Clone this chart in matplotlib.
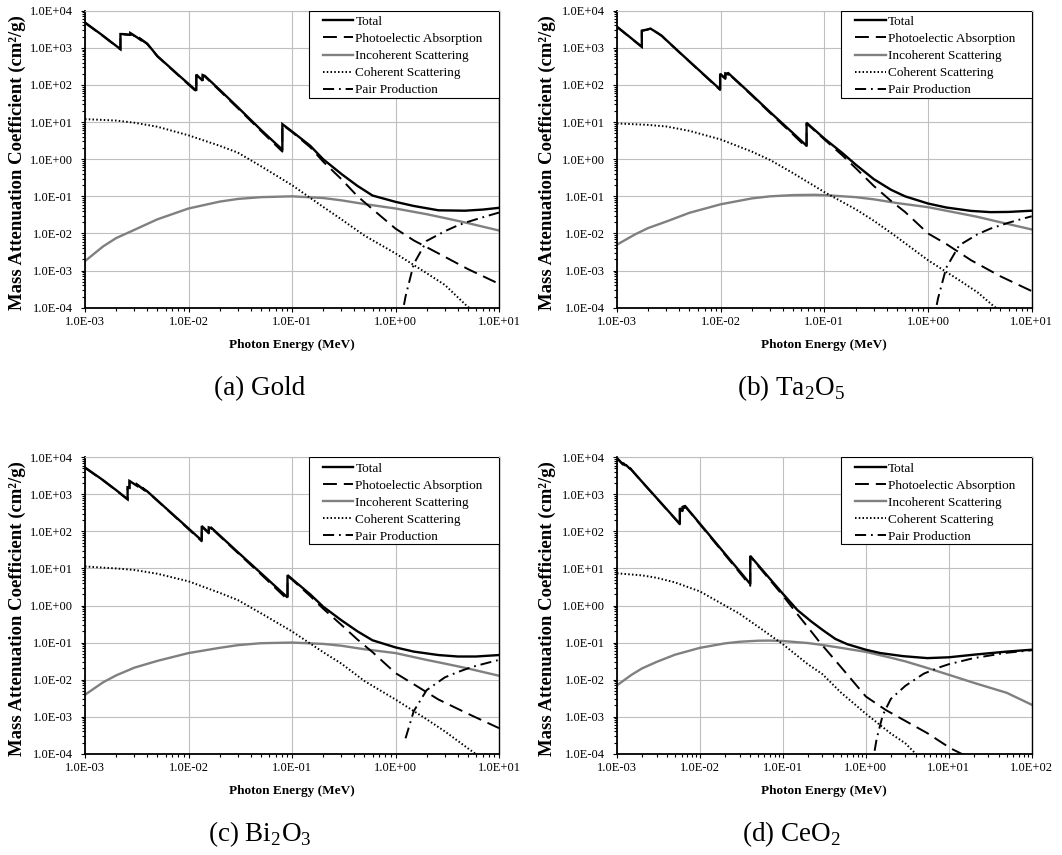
import matplotlib
matplotlib.use("Agg")
import matplotlib.pyplot as plt
from matplotlib.patches import Rectangle
from matplotlib.ticker import FuncFormatter, LogLocator, NullFormatter

plt.rcParams["font.family"] = ["Liberation Serif", "DejaVu Serif"]
plt.rcParams["mathtext.fontset"] = "custom"
plt.rcParams["mathtext.rm"] = "Liberation Serif"
plt.rcParams["lines.scale_dashes"] = False

# ---- (a) Gold ----  energies in MeV, coefficients in cm2/g
au_tot_e = [1e-3, 1.5e-3, 2.2e-3, 2.2e-3, 2.29e-3, 2.74e-3, 2.74e-3, 3.15e-3, 3.43e-3, 3.43e-3, 4e-3, 5e-3, 8e-3,
            1.19e-2, 1.19e-2, 1.37e-2, 1.37e-2, 1.44e-2, 2e-2, 3e-2, 5e-2, 8.07e-2, 8.07e-2, 0.1, 0.15, 0.2, 0.3,
            0.43, 0.6, 1.0, 1.5, 2.6, 4.7, 7.0, 10.0]
au_tot = [4800, 2100, 920, 2350, 2350, 2250, 2500, 1950, 1650, 1750, 1290, 600, 185,
          70, 190, 130, 185, 175, 74, 25, 6.2, 1.8, 8.8, 5.6, 2.3, 1.0, 0.40,
          0.19, 0.105, 0.071, 0.055, 0.042, 0.041, 0.044, 0.049]
au_pe_e = [1e-3, 1.5e-3, 2.2e-3, 2.2e-3, 2.29e-3, 2.74e-3, 2.74e-3, 3.15e-3, 3.43e-3, 3.43e-3, 4e-3, 5e-3, 8e-3,
           1.19e-2, 1.19e-2, 1.37e-2, 1.37e-2, 1.44e-2, 2e-2, 3e-2, 5e-2, 8.07e-2, 8.07e-2, 0.1, 0.15, 0.2, 0.3,
           0.43, 0.6, 1.0, 1.5, 2.6, 5.0, 10.0]
au_pe = [4700, 2050, 900, 2320, 2320, 2220, 2470, 1920, 1620, 1720, 1260, 590, 180,
         66, 184, 125, 178, 168, 70, 23.5, 5.8, 1.6, 8.5, 5.4, 2.1, 0.86, 0.29,
         0.10, 0.045, 0.0135, 0.0065, 0.0029, 0.0011, 0.00044]
au_inc_e = [1e-3, 1.5e-3, 2e-3, 3e-3, 5e-3, 1e-2, 2e-2, 3e-2, 5e-2, 0.1, 0.2, 0.3, 0.5, 1.0, 2.0, 3.0, 5.0, 10.0]
au_inc = [1.8e-3, 4.5e-3, 7.5e-3, 0.0125, 0.024, 0.047, 0.072, 0.085, 0.095, 0.1, 0.09, 0.078, 0.062, 0.047,
          0.033, 0.026, 0.019, 0.012]
au_coh_e = [1e-3, 2e-3, 3e-3, 5e-3, 1e-2, 2e-2, 3e-2, 5e-2, 0.1, 0.2, 0.3, 0.5, 1.0, 2.0, 3.0, 5.0, 7.0, 10.0]
au_coh = [12, 11, 9.6, 7.5, 4.4, 2.3, 1.5, 0.65, 0.2, 0.052, 0.024, 0.0088, 0.0029, 0.00085, 0.00041,
          0.000105, 6.5e-5, 3.2e-5]
au_pp_e = [1.1, 1.25, 1.5, 2.0, 3.0, 4.0, 5.0, 6.0, 8.0, 10.0]
au_pp = [3e-5, 2e-4, 1.5e-3, 6.3e-3, 0.0115, 0.0165, 0.0205, 0.024, 0.0305, 0.0365]

# ---- (b) Ta2O5 ----
ta_tot_e = [1e-3, 1.735e-3, 1.735e-3, 1.95e-3, 2.1e-3, 2.2e-3, 2.47e-3, 2.71e-3, 2.9e-3, 4e-3, 6e-3,
            9.88e-3, 9.88e-3, 1.11e-2, 1.11e-2, 1.17e-2, 1.17e-2, 2e-2, 3e-2, 5e-2, 6.74e-2, 6.74e-2, 0.1,
            0.15, 0.2, 0.3, 0.44, 0.6, 1.0, 1.5, 2.6, 4.0, 6.0, 10.0]
ta_tot = [3700, 1070, 2900, 3100, 3300, 3050, 2500, 2100, 1750, 760, 270,
          76, 200, 150, 205, 195, 215, 54, 18.5, 5.0, 2.3, 9.6, 3.6,
          1.45, 0.72, 0.29, 0.15, 0.1, 0.064, 0.05, 0.0405, 0.0375, 0.038, 0.041]
ta_pe_e = [1e-3, 1.735e-3, 1.735e-3, 1.95e-3, 2.1e-3, 2.2e-3, 2.47e-3, 2.71e-3, 2.9e-3, 4e-3, 6e-3,
           9.88e-3, 9.88e-3, 1.11e-2, 1.11e-2, 1.17e-2, 1.17e-2, 2e-2, 3e-2, 5e-2, 6.74e-2, 6.74e-2, 0.1,
           0.15, 0.2, 0.3, 0.44, 0.6, 1.0, 1.5, 2.6, 5.0, 10.0]
ta_pe = [3650, 1050, 2870, 3070, 3270, 3020, 2470, 2080, 1730, 750, 265,
         73, 195, 145, 200, 190, 210, 52, 17.5, 4.6, 2.05, 9.2, 3.4,
         1.25, 0.58, 0.19, 0.075, 0.038, 0.01, 0.0052, 0.0019, 0.0007, 0.00028]
ta_inc_e = [1e-3, 1.5e-3, 2e-3, 3e-3, 5e-3, 1e-2, 2e-2, 3e-2, 5e-2, 8e-2, 0.1, 0.2, 0.3, 0.5, 1.0, 2.0, 3.0,
            5.0, 10.0]
ta_inc = [5e-3, 9.5e-3, 0.014, 0.021, 0.036, 0.061, 0.088, 0.1, 0.108, 0.11, 0.108, 0.095, 0.083, 0.066,
          0.051, 0.035, 0.028, 0.02, 0.0128]
ta_coh_e = [1e-3, 2e-3, 3e-3, 5e-3, 1e-2, 2e-2, 3e-2, 5e-2, 0.1, 0.2, 0.3, 0.5, 1.0, 2.0, 3.0, 4.3, 6.0, 10.0]
ta_coh = [9.2, 8.4, 7.6, 5.8, 3.4, 1.6, 0.95, 0.42, 0.13, 0.045, 0.022, 0.008, 0.0019, 0.00055, 0.00026,
          1.1e-4, 5.5e-5, 2e-5]
ta_pp_e = [1.1, 1.25, 1.5, 2.0, 3.0, 4.0, 6.0, 8.0, 10.0]
ta_pp = [3e-5, 1.8e-4, 1.2e-3, 4.8e-3, 0.0095, 0.0135, 0.0195, 0.0245, 0.029]

# ---- (c) Bi2O3 ----
bi_tot_e = [1e-3, 1.5e-3, 2e-3, 2.58e-3, 2.58e-3, 2.69e-3, 2.69e-3, 3.18e-3, 3.18e-3, 3.7e-3, 3.7e-3, 4e-3,
            6e-3, 1e-2, 1.342e-2, 1.342e-2, 1.571e-2, 1.571e-2, 1.639e-2, 1.639e-2, 2e-2, 3e-2, 5e-2,
            9.05e-2, 9.05e-2, 0.1, 0.15, 0.2, 0.3, 0.43, 0.6, 1.0, 1.5, 2.6, 4.0, 6.0, 10.0]
bi_tot = [5300, 2400, 1300, 740, 1550, 1500, 2300, 1700, 1850, 1350, 1400, 1200,
          433, 120, 57, 140, 92, 128, 122, 130, 78, 27.5, 7.5,
          1.65, 6.6, 5.2, 2.0, 0.93, 0.4, 0.2, 0.115, 0.074, 0.057, 0.046, 0.042, 0.042, 0.046]
bi_pe_e = [1e-3, 1.5e-3, 2e-3, 2.58e-3, 2.58e-3, 2.69e-3, 2.69e-3, 3.18e-3, 3.18e-3, 3.7e-3, 3.7e-3, 4e-3,
           6e-3, 1e-2, 1.342e-2, 1.342e-2, 1.571e-2, 1.571e-2, 1.639e-2, 1.639e-2, 2e-2, 3e-2, 5e-2,
           9.05e-2, 9.05e-2, 0.1, 0.15, 0.2, 0.3, 0.43, 0.6, 1.0, 1.5, 2.6, 5.0, 10.0]
bi_pe = [5200, 2350, 1280, 725, 1520, 1470, 2270, 1680, 1820, 1330, 1380, 1180,
         425, 115, 54, 135, 88, 124, 118, 126, 75, 26, 7.0,
         1.45, 6.3, 5.0, 1.8, 0.82, 0.3, 0.12, 0.055, 0.015, 0.0075, 0.0029, 0.0012, 0.00049]
bi_inc_e = [1e-3, 1.5e-3, 2e-3, 3e-3, 5e-3, 1e-2, 2e-2, 3e-2, 5e-2, 0.1, 0.2, 0.3, 0.5, 1.0, 2.0, 3.0, 5.0, 10.0]
bi_inc = [3.9e-3, 8.5e-3, 0.013, 0.021, 0.032, 0.052, 0.072, 0.085, 0.096, 0.1, 0.092, 0.082, 0.066, 0.052,
          0.034, 0.027, 0.02, 0.0127]
bi_coh_e = [1e-3, 2e-3, 3e-3, 5e-3, 1e-2, 2e-2, 3e-2, 5e-2, 0.1, 0.2, 0.3, 0.5, 1.0, 2.0, 3.0, 5.0, 10.0]
bi_coh = [11.3, 10, 9.1, 7.2, 4.5, 2.2, 1.4, 0.62, 0.2, 0.055, 0.027, 0.0092, 0.0029, 0.00085, 0.0004,
          0.00014, 3.5e-5]
bi_pp_e = [1.25, 1.5, 2.0, 3.0, 4.0, 5.0, 6.0, 8.0, 10.0]
bi_pp = [2.6e-4, 1.4e-3, 5.2e-3, 0.0115, 0.016, 0.02, 0.0235, 0.029, 0.034]

# ---- (d) CeO2 ----
ce_tot_e = [1e-3, 1.185e-3, 1.185e-3, 1.273e-3, 1.273e-3, 1.435e-3, 1.435e-3, 2e-3, 3e-3,
            5.723e-3, 5.723e-3, 6.164e-3, 6.164e-3, 6.549e-3, 6.549e-3, 1e-2, 2e-2, 3e-2,
            4.044e-2, 4.044e-2, 6e-2, 0.1, 0.15, 0.22, 0.3, 0.43, 0.6, 1.0, 1.5, 2.8, 5.5, 10.0,
            20.0, 50.0, 100.0]
ce_tot = [9500, 6400, 7000, 6000, 6300, 4900, 5100, 2200, 800,
          160, 420, 360, 480, 420, 500, 161, 25, 8.5,
          3.8, 21.8, 7.8, 2.07, 0.75, 0.37, 0.22, 0.125, 0.09, 0.064, 0.052, 0.043, 0.038, 0.04,
          0.047, 0.057, 0.064]
ce_pe_e = [1e-3, 1.185e-3, 1.185e-3, 1.273e-3, 1.273e-3, 1.435e-3, 1.435e-3, 2e-3, 3e-3,
           5.723e-3, 5.723e-3, 6.164e-3, 6.164e-3, 6.549e-3, 6.549e-3, 1e-2, 2e-2, 3e-2,
           4.044e-2, 4.044e-2, 6e-2, 0.1, 0.15, 0.2, 0.28, 0.5, 1.0, 1.75, 5.5, 10.5, 20.0, 100.0]
ce_pe = [9400, 6300, 6900, 5900, 6200, 4850, 5050, 2170, 790,
         155, 410, 350, 470, 410, 490, 155, 23.5, 7.8,
         3.4, 21.0, 7.3, 1.85, 0.58, 0.26, 0.1, 0.022, 0.0035, 0.0015, 3.6e-4, 1.4e-4, 6.8e-5, 1.3e-5]
ce_inc_e = [1e-3, 1.5e-3, 2e-3, 3e-3, 5e-3, 1e-2, 2e-2, 3e-2, 5e-2, 7e-2, 0.1, 0.2, 0.3, 0.5, 1.0, 2.0, 3.0,
            5.0, 10.0, 20.0, 50.0, 100.0]
ce_inc = [7e-3, 0.0135, 0.02, 0.03, 0.047, 0.072, 0.095, 0.105, 0.112, 0.113, 0.11, 0.097, 0.086, 0.072,
          0.056, 0.039, 0.031, 0.022, 0.0135, 0.0082, 0.0044, 0.0021]
ce_coh_e = [1e-3, 2e-3, 3e-3, 5e-3, 1e-2, 2e-2, 3e-2, 5e-2, 0.1, 0.2, 0.3, 0.5, 1.0, 2.0, 3.0, 5.0, 10.0]
ce_coh = [7.4, 6.5, 5.6, 4.2, 2.4, 1.0, 0.6, 0.27, 0.09, 0.026, 0.014, 0.0045, 0.0012, 0.00035, 0.00019,
          6e-5, 1.5e-5]
ce_pp_e = [1.15, 1.35, 1.6, 2.0, 3.0, 5.0, 8.0, 10.0, 20.0, 50.0, 100.0]
ce_pp = [3e-5, 2.5e-4, 1.1e-3, 3e-3, 6.8e-3, 0.0145, 0.022, 0.026, 0.038, 0.053, 0.062]

labels = ["Total", "Photoelectic Absorption", "Incoherent Scattering", "Coherent Scattering", "Pair Production"]
captions = ["(a) Gold", r"(b) Ta$_\mathrm{2}$O$_\mathrm{5}$", r"(c) Bi$_\mathrm{2}$O$_\mathrm{3}$",
            r"(d) CeO$_\mathrm{2}$"]

panels = [
    [(au_tot_e, au_tot), (au_pe_e, au_pe), (au_inc_e, au_inc), (au_coh_e, au_coh), (au_pp_e, au_pp)],
    [(ta_tot_e, ta_tot), (ta_pe_e, ta_pe), (ta_inc_e, ta_inc), (ta_coh_e, ta_coh), (ta_pp_e, ta_pp)],
    [(bi_tot_e, bi_tot), (bi_pe_e, bi_pe), (bi_inc_e, bi_inc), (bi_coh_e, bi_coh), (bi_pp_e, bi_pp)],
    [(ce_tot_e, ce_tot), (ce_pe_e, ce_pe), (ce_inc_e, ce_inc), (ce_coh_e, ce_coh), (ce_pp_e, ce_pp)],
]
xmax = [10, 10, 10, 100]

styles = [
    dict(color="black", lw=1.7, ls="-", zorder=4),
    dict(color="black", lw=1.4, ls=(0, (10, 5)), zorder=3),
    dict(color="#808080", lw=1.7, ls="-", zorder=2),
    dict(color="black", lw=1.4, ls=(0, (1.1, 1.6)), zorder=2),
    dict(color="black", lw=1.4, ls=(0, (8, 3.5, 1.3, 3.5)), zorder=2),
]

W, H = 1062, 855
fig = plt.figure(figsize=(W / 100, H / 100), dpi=100)

# axes boxes in pixels: left, top, right, bottom
boxes = [(85, 10.7, 499, 307.7), (617, 10.7, 1031.7, 307.7),
         (85, 457.3, 499, 753.7), (617, 457.3, 1031.7, 753.7)]
cap_pos = [(260, 395.5), (791, 395.5), (260, 841), (791, 841)]

fmt = FuncFormatter(lambda v, p: f"{v:.1E}")

for i in range(4):
    l, t, r, b = boxes[i]
    ax = fig.add_axes([l / W, 1 - b / H, (r - l) / W, (b - t) / H])
    ax.set_xscale("log")
    ax.set_yscale("log")
    ax.set_xlim(1e-3, xmax[i])
    ax.set_ylim(1e-4, 1e4)

    handles = []
    for (e, v), st, lab in zip(panels[i], styles, labels):
        h, = ax.plot(e, v, color=st["color"], lw=st["lw"], ls=st["ls"], zorder=st["zorder"],
                     solid_joinstyle="miter", label=lab)
        handles.append(h)

    ax.set_axisbelow(True)
    ax.grid(True, which="major", color="#bfbfbf", lw=0.8)
    for ax_ in (ax.xaxis, ax.yaxis):
        ax_.set_major_locator(LogLocator(base=10, numticks=20))
        ax_.set_minor_locator(LogLocator(base=10, subs=range(2, 10), numticks=200))
        ax_.set_major_formatter(fmt)
        ax_.set_minor_formatter(NullFormatter())
    ax.tick_params(which="both", direction="out", width=0.8, labelsize=9, top=False, right=False)
    ax.tick_params(which="major", length=3)
    ax.tick_params(which="minor", length=2)
    ax.tick_params(axis="x", pad=3)
    ax.tick_params(axis="y", pad=5.5)

    ax.spines["left"].set_linewidth(1.3)
    ax.spines["bottom"].set_linewidth(1.3)
    ax.spines["top"].set_color("#bfbfbf")
    ax.spines["top"].set_linewidth(0.8)
    ax.spines["right"].set_linewidth(1.0)

    ax.set_xlabel("Photon Energy (MeV)", fontsize=9.5, fontweight="bold", va="center")
    ax.xaxis.set_label_coords(0.5, -0.127)
    ax.set_ylabel("Mass Attenuation Coefficient (cm²/g)", fontsize=13.5, fontweight="bold", va="center")
    ax.yaxis.set_label_coords(-(l - (17 if i % 2 == 0 else 547)) / (r - l), 0.49)

    # legend frame drawn separately so the side padding can match
    ax.add_patch(Rectangle((0.54, 0.706), 0.46, 0.294, transform=ax.transAxes, facecolor="white",
                           edgecolor="black", lw=0.8, zorder=5))
    leg = ax.legend(handles=handles, loc="upper left", bbox_to_anchor=(0.563, 1.0), borderaxespad=0,
                    frameon=False, fontsize=9.5, handlelength=2.3, handletextpad=0.15,
                    borderpad=0.38, labelspacing=0.37)
    leg.set_zorder(6)

    cx, cy = cap_pos[i]
    fig.text(cx / W, 1 - cy / H, captions[i], fontsize=19.5, ha="center", va="baseline")

fig.savefig("out.png", dpi=100)
